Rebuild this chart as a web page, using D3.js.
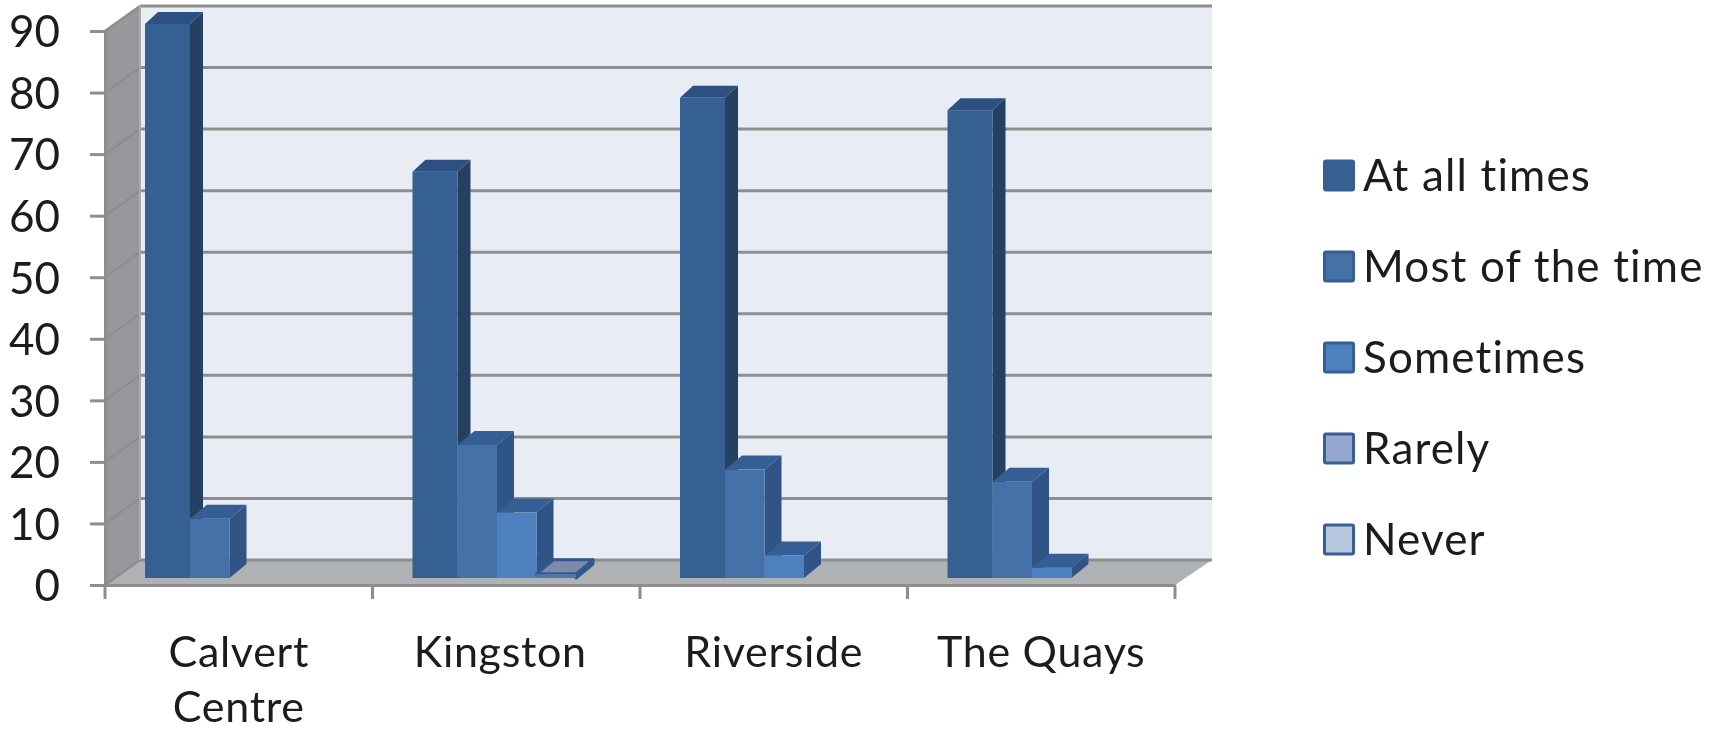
<!DOCTYPE html>
<html><head><meta charset="utf-8">
<script src="https://cdn.jsdelivr.net/npm/d3@7"></script>
<style>html,body{margin:0;background:#fff}svg{display:block;filter:blur(.7px)}text{font-family:Lato,"Open Sans",sans-serif;fill:#1c1c1c}</style>
</head><body><svg id="c" width="1709" height="731"></svg>
<script>
const categories=["Calvert Centre","Kingston","Riverside","The Quays"];
const seriesNames=["At all times","Most of the time","Sometimes","Rarely","Never"];
const atAllTimes=[90,66,78,76];
const mostOfTheTime=[10,22,18,16];
const sometimes=[0,11,4,2];
const rarely=[0,1,0,0];
const never=[0,0,0,0];
const yTicks=[0,10,20,30,40,50,60,70,80,90];
const seriesValues=[atAllTimes,mostOfTheTime,sometimes,rarely,never];
const fronts=["#376092","#4471A8","#4D80BF","#4F75AC","#B9C6DF"];
const sides=["#254061","#2F5485","#2F5485","#30588F","#2F5485"];
const tops=["#2D5080","#355F94","#355F94","#7F8AAB","#9FB0CF"];
const legendFill=["#376092","#4471A8","#4D80BF","#95A8CF","#B9C6DF"];

const svg=d3.select("#c");
const L=105,R=1175,F0=585,F90=31,DX=35,DY=25;
const x=d3.scaleBand().domain(categories).range([L,R]);
const y=d3.scaleLinear().domain([0,90]).range([F0,F90]);
const yBarFirst=d3.scaleLinear().domain([0,90]).range([578,24]);
const yBarRest=d3.scaleLinear().domain([0,90]).range([580,28]);
const BASE=578;
const xs=d3.scaleBand().domain(seriesNames).range([0,197.5]);
const grid="#8E8E8E";

// walls
svg.append("path").attr("fill","#E8ECF5").attr("d",`M${L+DX},${y(90)-DY}H${R+DX+2}V${F0-DY}H${L+DX}Z`);
svg.append("path").attr("fill","#96989C").attr("d",`M${L},${y(90)}L${L+DX},${y(90)-DY}V${F0-DY}L${L},${F0}Z`);
svg.append("path").attr("fill","#AFB2B5").attr("d",`M${L},${F0}L${L+DX},${F0-DY}H${R+DX+2}L${R},${F0}Z`);

// gridlines
const g=svg.append("g").attr("stroke",grid).attr("fill","none");
g.selectAll(".h").data(yTicks).join("line").attr("x1",L+DX).attr("x2",R+DX+2)
 .attr("y1",d=>y(d)-DY).attr("y2",d=>y(d)-DY).attr("stroke-width",3);
g.selectAll(".d").data(yTicks).join("line").attr("x1",L).attr("x2",L+DX)
 .attr("y1",d=>y(d)).attr("y2",d=>y(d)-DY).attr("stroke-width",2.5);
g.append("line").attr("x1",L+DX).attr("x2",L+DX).attr("y1",y(90)-DY).attr("y2",F0-DY).attr("stroke-width",2).attr("stroke","#A8AAAE");

// bars
const LEAD=5.5;
const barsG=svg.append("g");
categories.forEach((c,ci)=>{
  seriesNames.forEach((s,si)=>{
    const v=seriesValues[si][ci];
    if(!v) return;
    const gx=x(c)+45.5;
    const first=si===0;
    const BW=first?13:17,BH=first?12:14;
    const x0=gx+xs(s)-(first?LEAD:0), x1=gx+xs(s)+xs.bandwidth(), yt=(first?yBarFirst:yBarRest)(v), yb=BASE;
    const b=barsG.append("g");
    if(si===3) b.attr("stroke",sides[si]).attr("stroke-width",3).attr("stroke-linejoin","round");
    b.append("path").attr("fill",sides[si]).attr("d",`M${x1},${yt}L${x1+BW},${yt-BH}V${yb-BH}L${x1},${yb}Z`);
    b.append("path").attr("fill",tops[si]).attr("d",`M${x0},${yt}L${x0+BW},${yt-BH}H${x1+BW}L${x1},${yt}Z`);
    b.append("rect").attr("fill",fronts[si]).attr("stroke","none").attr("x",x0).attr("y",yt).attr("width",x1-x0).attr("height",yb-yt);
  });
});

// axes
const ay=svg.append("g").attr("transform",`translate(${L},0)`).call(d3.axisLeft(y).tickValues(yTicks).tickSize(15).tickPadding(30));
const ax=svg.append("g").attr("transform",`translate(0,${F0})`).call(d3.axisBottom(x).tickSize(0).tickPadding(61));
[ay,ax].forEach(a=>{a.selectAll("path.domain").attr("stroke",grid).attr("stroke-width",3);a.selectAll("line").attr("stroke",grid).attr("stroke-width",3);});
ay.selectAll("text").style("font-size","44px").attr("dy","0.36em");
ax.selectAll(".tick text").each(function(d){
  const words=d==="Calvert Centre"?d.split(" "):[d];
  const t=d3.select(this).text(null).style("font-size","43px").style("letter-spacing","0.7px").attr("y",0).attr("dy",null);
  words.forEach((w,i)=>t.append("tspan").attr("x",d==="Kingston"?-6:0).attr("y",82+i*55).text(w));
});
svg.append("g").attr("stroke",grid).attr("stroke-width",3).selectAll("line")
 .data(d3.range(categories.length+1)).join("line")
 .attr("x1",i=>L+i*x.step()).attr("x2",i=>L+i*x.step()).attr("y1",F0).attr("y2",F0+14);

// legend
const ly=d3.scalePoint().domain(seriesNames).range([176,540]);
const leg=svg.append("g").selectAll("g").data(seriesNames).join("g").attr("transform",d=>`translate(1323,${ly(d)})`);
leg.append("rect").attr("x",1.5).attr("y",-15).attr("width",29).attr("height",29).attr("rx",1.5)
 .attr("fill",(d,i)=>legendFill[i]).attr("stroke","#375F92").attr("stroke-width",3);
leg.append("text").attr("x",40).attr("y",15).style("font-size","44px").style("letter-spacing","1.15px").text(d=>d);
</script></body></html>
